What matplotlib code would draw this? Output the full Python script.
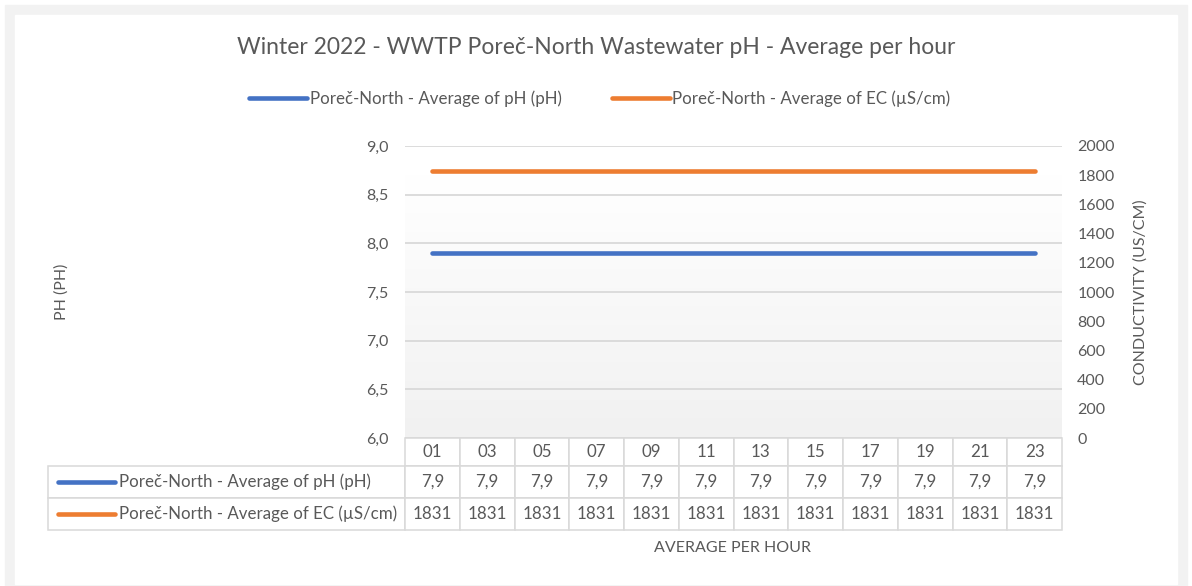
import matplotlib
matplotlib.use('Agg')
import matplotlib.pyplot as plt
import numpy as np
from matplotlib.table import Table
from matplotlib.patches import Rectangle

# ---------------- data ----------------
hours = ['01', '03', '05', '07', '09', '11', '13', '15', '17', '19', '21', '23']
ph_values = [7.9, 7.9, 7.9, 7.9, 7.9, 7.9, 7.9, 7.9, 7.9, 7.9, 7.9, 7.9]
ec_values = [1831, 1831, 1831, 1831, 1831, 1831, 1831, 1831, 1831, 1831, 1831, 1831]
ph_label = 'Poreč-North - Average of pH (pH)'
ec_label = 'Poreč-North - Average of EC (µS/cm)'
title = 'Winter 2022 - WWTP Poreč-North Wastewater pH - Average per hour'
ph_ticks = [6.0, 6.5, 7.0, 7.5, 8.0, 8.5, 9.0]
ec_ticks = [0, 200, 400, 600, 800, 1000, 1200, 1400, 1600, 1800, 2000]
x_title = 'AVERAGE PER HOUR'
y_left_title = 'PH (PH)'
y_right_title = 'CONDUCTIVITY (US/CM)'

# ---------------- style ----------------
plt.rcParams['font.family'] = ['Lato', 'DejaVu Sans']
TXT = '#595959'
GRID = '#d9d9d9'
BLUE = '#4472C4'
ORANGE = '#ED7D31'
FS = 11.5
FS_T = 12.2

W, H = 1192, 586
fig = plt.figure(figsize=(W / 100, H / 100), dpi=100)


def fx(px):
    return px / W


def fy(py):
    return 1 - py / H


# outer frame
fig.patches.append(Rectangle((fx(5), fy(586)), fx(1187) - fx(5), fy(5) - fy(586),
                             transform=fig.transFigure, color='#f2f2f2', zorder=-10))
fig.patches.append(Rectangle((fx(15), fy(584)), fx(1177) - fx(15), fy(15) - fy(584),
                             transform=fig.transFigure, color='white', zorder=-9))

L, R, T, B = 405, 1062, 146, 438
ax = fig.add_axes([fx(L), fy(B), fx(R) - fx(L), fy(T) - fy(B)])
ax.set_facecolor('none')
x = np.arange(len(hours))
ax.set_xlim(-0.5, len(hours) - 0.5)
ax.set_ylim(6, 9)

# gradient plot area
yy = np.linspace(6, 9, 300)
t = np.clip((8.7 - yy) / 2.7, 0, 1)
top = np.array([1.0, 1.0, 1.0])
bot = np.array([0.945, 0.945, 0.945])
grad = (top[None, :] * (1 - t[:, None]) + bot[None, :] * t[:, None])[:, None, :]
ax.imshow(grad, extent=[-0.5, len(hours) - 0.5, 6, 9], origin='lower', aspect='auto',
          interpolation='bilinear', zorder=0)

ax.set_yticks(ph_ticks)
ax.set_yticklabels([f'{v:.1f}'.replace('.', ',') for v in ph_ticks])
ax.yaxis.grid(True, color=GRID, lw=1.3, zorder=1)
ax.set_axisbelow(True)
ax.tick_params(axis='y', length=0, pad=12, labelsize=FS, labelcolor=TXT)
ax.tick_params(axis='x', bottom=False, labelbottom=False)
for s in ax.spines.values():
    s.set_visible(False)

l1, = ax.plot(x, ph_values, color=BLUE, lw=3.3, solid_capstyle='round', label=ph_label, zorder=3)

ax2 = ax.twinx()
ax2.set_ylim(0, 2000)
ax2.set_yticks(ec_ticks)
ax2.set_yticklabels([str(v) for v in ec_ticks])
ax2.tick_params(axis='y', length=0, pad=11, labelsize=FS, labelcolor=TXT)
for s in ax2.spines.values():
    s.set_visible(False)
l2, = ax2.plot(x, ec_values, color=ORANGE, lw=3.3, solid_capstyle='round', label=ec_label, zorder=3)

# ---------------- data table ----------------
axw = R - L
axh = B - T
tL = 48
tb = Table(ax, loc='bottom')
colw = 1.0 / len(hours)
labw = (L - tL) / axw
hdr_h, row_h = 28, 32
for j, hname in enumerate(hours):
    tb.add_cell(0, j, width=colw, height=hdr_h / axh, text=hname, loc='center')
rows = [(ph_label, [f'{v:.1f}'.replace('.', ',') for v in ph_values]),
        (ec_label, [str(v) for v in ec_values])]
for i, (lab, vals) in enumerate(rows, start=1):
    c = tb.add_cell(i, -1, width=labw, height=row_h / axh, text=lab, loc='left')
    c.PAD = 71 / (L - tL)
    for j, v in enumerate(vals):
        tb.add_cell(i, j, width=colw, height=row_h / axh, text=v, loc='center')
tb.auto_set_font_size(False)
tb.set_fontsize(FS_T)
for key, cell in tb.get_celld().items():
    cell.set_edgecolor(GRID)
    cell.set_linewidth(1.1)
    cell.set_facecolor('white')
    cell.get_text().set_color(TXT)
tb.set_zorder(4)
ax.add_table(tb)

# legend keys inside table
for i, col in enumerate([BLUE, ORANGE]):
    yc = B + hdr_h + row_h * i + row_h / 2
    ax.plot([(58 - L) / axw, (115 - L) / axw], [(B - yc) / axh] * 2, transform=ax.transAxes,
            color=col, lw=3.3, solid_capstyle='round', clip_on=False, zorder=6)

# ---------------- texts ----------------
fig.text(fx(596), fy(47), title, ha='center', va='center', fontsize=16.5, color=TXT)
fig.legend(handles=[l1, l2], loc='center', bbox_to_anchor=(fx(600), fy(99)), ncol=2,
           frameon=False, handlelength=3.4, handletextpad=0.15, columnspacing=3.0,
           fontsize=FS_T, labelcolor=TXT)
fig.text(fx(733), fy(548), x_title, ha='center', va='center', fontsize=FS, color=TXT)
fig.text(fx(62), fy(292), y_left_title, ha='center', va='center', rotation=90, fontsize=FS, color=TXT)
fig.text(fx(1141), fy(292), y_right_title, ha='center', va='center', rotation=90, fontsize=FS, color=TXT)

fig.savefig('out.png', dpi=100)
